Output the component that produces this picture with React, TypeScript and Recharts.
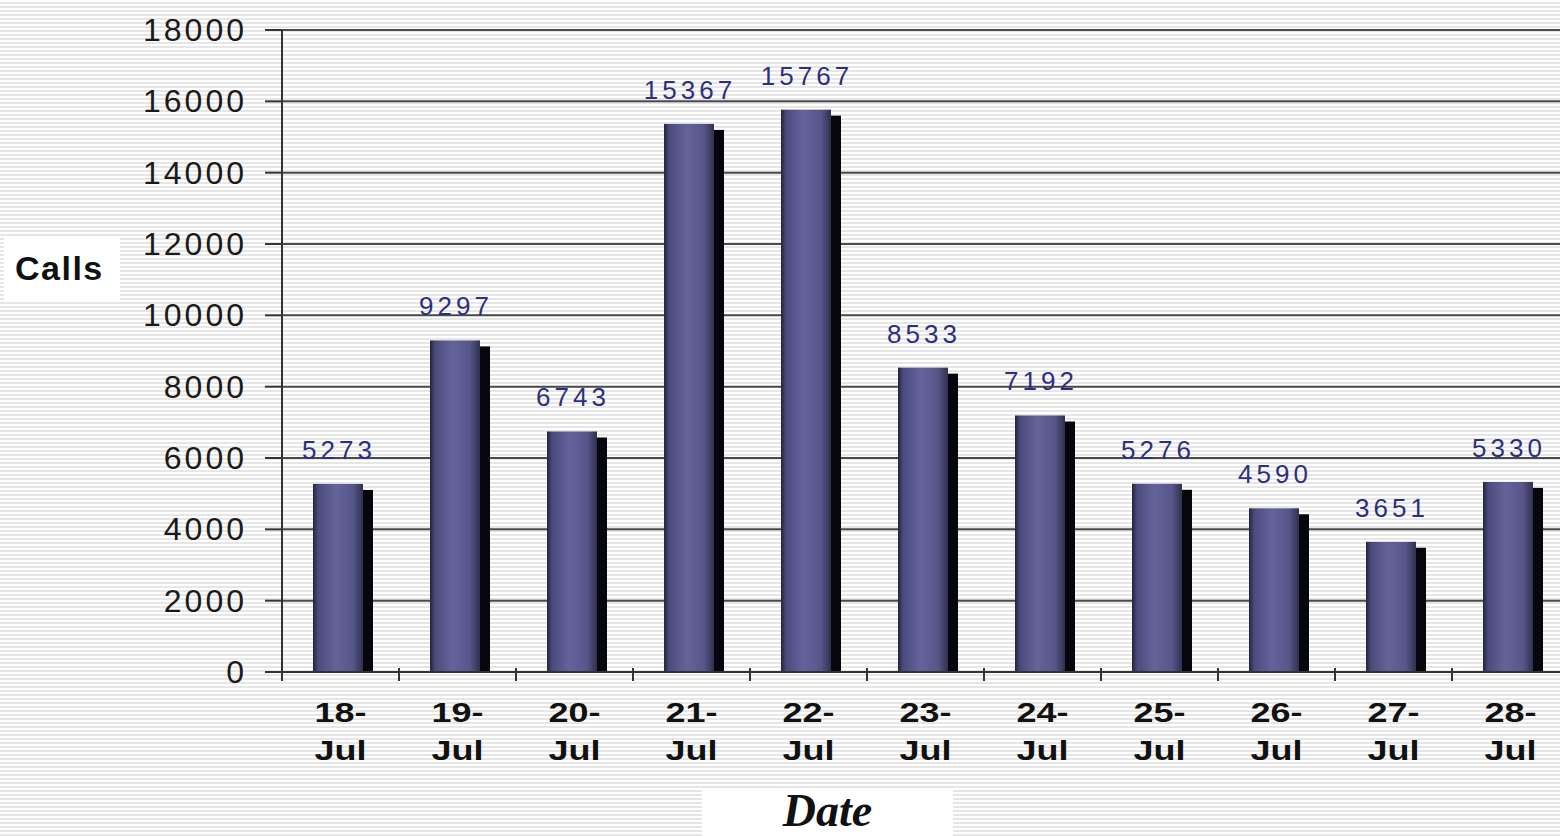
import React from 'react';
import {
  BarChart,
  Bar,
  XAxis,
  YAxis,
  CartesianGrid,
  LabelList,
} from 'recharts';

const days = ['18-', '19-', '20-', '21-', '22-', '23-', '24-', '25-', '26-', '27-', '28-'];
const month = 'Jul';
const calls = [5273, 9297, 6743, 15367, 15767, 8533, 7192, 5276, 4590, 3651, 5330];
const yTicks = [0, 2000, 4000, 6000, 8000, 10000, 12000, 14000, 16000, 18000];

const data = days.map((d, i) => ({ day: d, month, calls: calls[i] }));

const HALF_BAND = 58.5;

const BarShape = (props: any) => {
  const { x, y, width, height } = props;
  if (!height || height <= 0) return null;
  return (
    <g>
      <rect x={x + 7} y={y + 6} width={width} height={height - 6} fill="#06060e" />
      <rect x={x - 3} y={y} width={width} height={height} fill="url(#barFace)" />
    </g>
  );
};

const XTick = (props: any) => {
  const { x, y, payload, index } = props;
  const row = data[index];
  return (
    <g>
      <line x1={x - HALF_BAND} y1={y - 4} x2={x - HALF_BAND} y2={y + 9} stroke="#333" strokeWidth={2} />
      <text
        x={x}
        y={y + 50}
        textAnchor="middle"
        fontFamily="Liberation Sans"
        fontWeight="bold"
        fontSize={28}
        fill="#111"
        textLength={52}
        lengthAdjust="spacingAndGlyphs"
      >
        {payload.value}
      </text>
      <text
        x={x}
        y={y + 88}
        textAnchor="middle"
        fontFamily="Liberation Sans"
        fontWeight="bold"
        fontSize={28}
        fill="#111"
        textLength={52}
        lengthAdjust="spacingAndGlyphs"
      >
        {row ? row.month : month}
      </text>
    </g>
  );
};

const YTick = (props: any) => {
  const { x, y, payload } = props;
  return (
    <text
      x={x - 18}
      y={y + 11}
      textAnchor="end"
      fontFamily="Liberation Sans"
      fontSize={32}
      letterSpacing={3}
      fill="#1a1a1a"
    >
      {payload.value}
    </text>
  );
};

const ValueLabel = (props: any) => {
  const { x, y, width, value } = props;
  return (
    <text
      x={x + width / 2 - 2}
      y={y - 25}
      textAnchor="middle"
      fontFamily="Liberation Sans"
      fontSize={26}
      letterSpacing={4}
      fill="#2e2e80"
    >
      {value}
    </text>
  );
};

export default function App() {
  return (
    <div
      style={{
        position: 'absolute',
        left: 0,
        top: 0,
        width: 1560,
        height: 836,
        overflow: 'hidden',
        background:
          'repeating-linear-gradient(to bottom, #ffffff 0px, #ffffff 2px, #e6e6e6 2px, #e6e6e6 4px)',
      }}
    >
      {/* white boxes behind the axis titles */}
      <div
        style={{
          position: 'absolute',
          left: 4,
          top: 236,
          width: 116,
          height: 64,
          background: '#fff',
          fontFamily: 'Liberation Sans',
          fontWeight: 'bold',
          fontSize: 34,
          letterSpacing: 1.5,
          lineHeight: '64px',
          paddingLeft: 11,
          boxSizing: 'border-box',
          color: '#111',
        }}
      >
        Calls
      </div>
      <div
        style={{
          position: 'absolute',
          left: 702,
          top: 790,
          width: 251,
          height: 46,
          background: '#fff',
        }}
      />
      <div
        style={{
          position: 'absolute',
          left: 702,
          top: 788,
          width: 251,
          textAlign: 'center',
          fontFamily: 'Liberation Serif',
          fontStyle: 'italic',
          fontWeight: 'bold',
          fontSize: 46,
          lineHeight: '46px',
          color: '#111',
        }}
      >
        Date
      </div>
      <div style={{ position: 'absolute', left: 0, top: 0 }}>
        <BarChart
          width={1580}
          height={836}
          data={data}
          margin={{ top: 30, right: 11, left: 162, bottom: 0 }}
          barCategoryGap={0}
        >
          <defs>
            <linearGradient id="barFace" x1="0" y1="0" x2="1" y2="0">
              <stop offset="0%" stopColor="#23233d" />
              <stop offset="10%" stopColor="#4a4a7c" />
              <stop offset="45%" stopColor="#64649c" />
              <stop offset="80%" stopColor="#56568a" />
              <stop offset="100%" stopColor="#30304e" />
            </linearGradient>
          </defs>
          <CartesianGrid vertical={false} stroke="#4a4a4a" strokeWidth={2} />
          <XAxis
            dataKey="day"
            tickLine={false}
            tickSize={0}
            tickMargin={0}
            axisLine={{ stroke: '#333', strokeWidth: 2 }}
            tick={<XTick />}
            interval={0}
            height={164}
          />
          <YAxis
            domain={[0, 18000]}
            ticks={yTicks}
            width={120}
            tickSize={17}
            tickMargin={0}
            tickLine={{ stroke: '#333', strokeWidth: 2 }}
            axisLine={{ stroke: '#333', strokeWidth: 2 }}
            tick={<YTick />}
            interval={0}
          />
          <Bar dataKey="calls" barSize={50} shape={<BarShape />} isAnimationActive={false}>
            <LabelList dataKey="calls" content={<ValueLabel />} />
          </Bar>
        </BarChart>
      </div>
    </div>
  );
}
